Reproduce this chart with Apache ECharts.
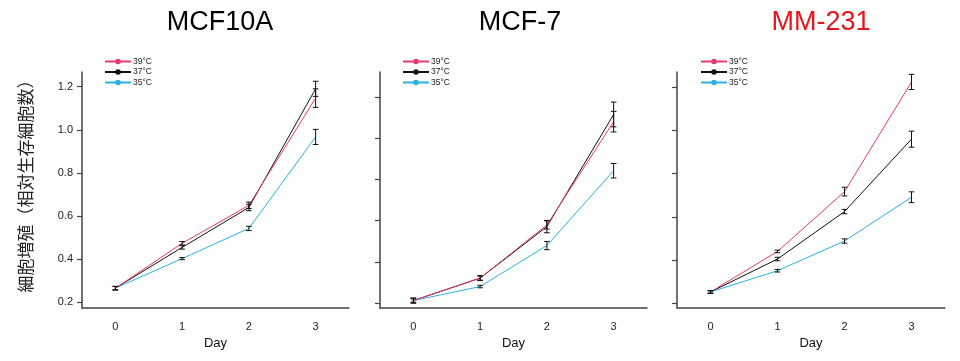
<!DOCTYPE html>
<html>
<head>
<meta charset="utf-8">
<script src="https://cdn.jsdelivr.net/npm/echarts@6/dist/echarts.min.js"></script>
<style>html,body{margin:0;padding:0;background:#fff}#c{width:960px;height:361px}</style>
</head>
<body>
<div id="c"></div>
<script>
// ---- data ----
const days = ['0', '1', '2', '3'];
const seriesNames = ['39°C', '37°C', '35°C'];
const panelTitles = ['MCF10A', 'MCF-7', 'MM-231'];
const yTicks = [0.2, 0.4, 0.6, 0.8, 1.0, 1.2];

// MCF10A
const mcf10a_39 = [0.266, 0.474, 0.650, 1.147];
const mcf10a_37 = [0.266, 0.455, 0.640, 1.190];
const mcf10a_35 = [0.266, 0.403, 0.543, 0.967];
const mcf10a_39_err = [0.008, 0.008, 0.015, 0.043];
const mcf10a_37_err = [0.008, 0.008, 0.015, 0.035];
const mcf10a_35_err = [0.008, 0.005, 0.010, 0.035];

// MCF-7
const mcf7_39 = [0.212, 0.321, 0.579, 1.080];
const mcf7_37 = [0.212, 0.321, 0.571, 1.115];
const mcf7_35 = [0.212, 0.280, 0.479, 0.842];
const mcf7_39_err = [0.012, 0.010, 0.020, 0.050];
const mcf7_37_err = [0.012, 0.012, 0.030, 0.060];
const mcf7_35_err = [0.008, 0.006, 0.020, 0.035];

// MM-231
const mm231_39 = [0.254, 0.441, 0.717, 1.223];
const mm231_37 = [0.254, 0.406, 0.625, 0.959];
const mm231_35 = [0.254, 0.352, 0.489, 0.691];
const mm231_39_err = [0.006, 0.006, 0.020, 0.035];
const mm231_37_err = [0.006, 0.008, 0.010, 0.037];
const mm231_35_err = [0.006, 0.006, 0.010, 0.025];

// ---- build ----
const colors = ['#e83a6f', '#111111', '#29b2e0'];
const panels = [
  { means: [mcf10a_39, mcf10a_37, mcf10a_35], errs: [mcf10a_39_err, mcf10a_37_err, mcf10a_35_err] },
  { means: [mcf7_39, mcf7_37, mcf7_35], errs: [mcf7_39_err, mcf7_37_err, mcf7_35_err] },
  { means: [mm231_39, mm231_37, mm231_35], errs: [mm231_39_err, mm231_37_err, mm231_35_err] }
];
const layout = [
  { left: 82, width: 267, yMin: 0.174, yMax: 1.268, labels: true, title: 215, legend: 99, titleColor: '#000', nameGap: 24 },
  { left: 380, width: 267, yMin: 0.176, yMax: 1.321, labels: false, title: 515, legend: 397, titleColor: '#000', nameGap: 25 },
  { left: 677, width: 268, yMin: 0.180, yMax: 1.269, labels: false, title: 816, legend: 695, titleColor: '#e8141c', nameGap: 29 }
];
const FONT = 'Liberation Sans, Arial, Helvetica, sans-serif';
const axisCol = '#444';

const grid = [], xAxis = [], yAxis = [], series = [], title = [], legend = [];
layout.forEach((L, p) => {
  grid.push({ left: L.left, width: L.width, top: 72, bottom: 53 });
  title.push({ text: panelTitles[p], left: L.title, top: 4, textAlign: 'center',
    textStyle: { fontFamily: FONT, fontSize: 27, fontWeight: 'normal', color: L.titleColor } });
  legend.push({ left: L.legend, top: 52, orient: 'vertical', itemWidth: 26, itemHeight: 7, itemGap: 1.5,
    data: seriesNames, selectedMode: false,
    textStyle: { fontFamily: FONT, fontSize: 8.5, color: '#222', padding: [0, 0, 0, -3] } });
  xAxis.push({ type: 'category', gridIndex: p, data: days, boundaryGap: true,
    name: 'Day', nameLocation: 'middle', nameGap: L.nameGap,
    nameTextStyle: { fontFamily: FONT, fontSize: 13, color: '#111' },
    axisLine: { lineStyle: { color: axisCol, width: 1.5 } },
    axisTick: { alignWithLabel: true, length: 5, lineStyle: { color: axisCol, width: 1.2 } },
    axisLabel: { fontFamily: FONT, fontSize: 11, color: '#222', margin: 13 },
    splitLine: { show: false } });
  yAxis.push({ type: 'value', gridIndex: p, min: L.yMin, max: L.yMax,
    name: p === 0 ? '細胞増殖（相対生存細胞数）' : '', nameLocation: 'middle', nameGap: 48, nameRotate: 90,
    nameTextStyle: { fontFamily: 'Noto Sans CJK JP', fontSize: 17, color: '#222', padding: [0, 0, 0, 16] },
    axisLine: { show: true, lineStyle: { color: axisCol, width: 1.5 } },
    axisTick: { show: true, length: 5, customValues: yTicks, lineStyle: { color: axisCol, width: 1.2 } },
    axisLabel: { show: L.labels, customValues: yTicks, fontFamily: FONT, fontSize: 11, color: '#222', margin: 9,
      formatter: v => v.toFixed(1) },
    splitLine: { show: false } });

  const P = panels[p];
  [1, 2, 0].forEach(s => {
    series.push({ type: 'line', name: seriesNames[s], xAxisIndex: p, yAxisIndex: p,
      data: P.means[s], color: colors[s], symbol: 'circle', symbolSize: 6, showSymbol: false,
      lineStyle: { width: 1, color: colors[s] }, z: 2, silent: true, animation: false });
  });
  [0, 1, 2].forEach(s => {
    const ed = P.means[s].map((m, i) => [i, m - P.errs[s][i], m + P.errs[s][i]]);
    series.push({ type: 'custom', xAxisIndex: p, yAxisIndex: p, data: ed, z: 3, silent: true, animation: false,
      renderItem: (params, api) => {
        const lo = api.coord([api.value(0), api.value(1)]);
        const hi = api.coord([api.value(0), api.value(2)]);
        const w = 2.8;
        const st = { stroke: '#111', lineWidth: 1 };
        return { type: 'group', children: [
          { type: 'line', shape: { x1: lo[0], y1: lo[1], x2: hi[0], y2: hi[1] }, style: st },
          { type: 'line', shape: { x1: lo[0] - w, y1: lo[1], x2: lo[0] + w, y2: lo[1] }, style: st },
          { type: 'line', shape: { x1: hi[0] - w, y1: hi[1], x2: hi[0] + w, y2: hi[1] }, style: st }
        ] };
      } });
  });
});

const chart = echarts.init(document.getElementById('c'), null, { renderer: 'canvas' });
chart.setOption({ backgroundColor: '#fff', animation: false, title, legend, grid, xAxis, yAxis, series });
</script>
</body>
</html>
